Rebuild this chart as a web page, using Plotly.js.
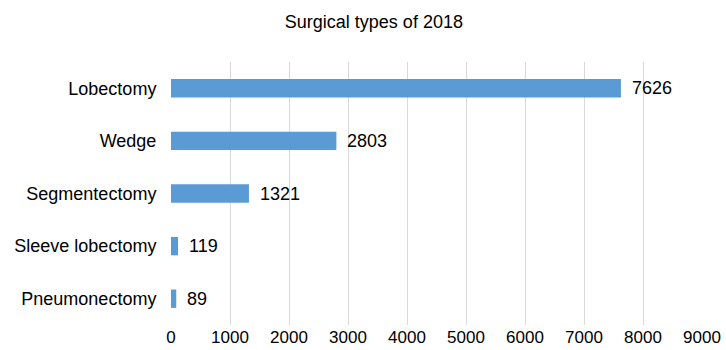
<!DOCTYPE html>
<html>
<head>
<meta charset="utf-8">
<script src="https://cdn.plot.ly/plotly-3.0.1.min.js"></script>
<style>html,body{margin:0;padding:0;background:#fff;}#chart{width:726px;height:350px;}</style>
</head>
<body>
<div id="chart"></div>
<script>
// Surgical procedure counts for 2018
const categories = ["Lobectomy", "Wedge", "Segmentectomy", "Sleeve lobectomy", "Pneumonectomy"];
const counts = [7626, 2803, 1321, 119, 89];
const xTicks = [0, 1000, 2000, 3000, 4000, 5000, 6000, 7000, 8000, 9000];

const font = "Liberation Sans, Arial, Helvetica, sans-serif";

const trace = {
  type: "bar",
  orientation: "h",
  y: categories,
  x: counts,
  marker: {color: "#5b9bd5"},
  hoverinfo: "x+y"
};

// value labels placed just past the end of each bar
const labels = categories.map((c, i) => ({
  x: counts[i], y: c, xref: "x", yref: "y",
  text: String(counts[i]), showarrow: false,
  xanchor: "left", xshift: 9,
  font: {family: font, size: 18, color: "#000"}
}));

const layout = {
  width: 726, height: 350,
  margin: {l: 171, r: 24, t: 62, b: 25},
  paper_bgcolor: "#fff", plot_bgcolor: "#fff",
  title: {text: "Surgical types of 2018", x: 0.515, xanchor: "center", y: 0.938, yanchor: "middle",
          font: {family: font, size: 18, color: "#000"}},
  bargap: 0.65,
  showlegend: false,
  xaxis: {
    range: [0, 9000], tickvals: xTicks, ticktext: xTicks.map(String),
    showgrid: true, gridcolor: "#d9d9d9", gridwidth: 1,
    zeroline: false, showline: false,
    ticks: "",
    tickfont: {family: font, size: 17, color: "#000"},
    fixedrange: true
  },
  yaxis: {
    type: "category", autorange: "reversed",
    showgrid: false, zeroline: false, showline: false,
    ticks: "outside", ticklen: 10, tickcolor: "rgba(0,0,0,0)",
    tickfont: {family: font, size: 18, color: "#000"},
    fixedrange: true
  },
  annotations: labels
};

Plotly.newPlot("chart", [trace], layout, {displayModeBar: false, staticPlot: true});
</script>
</body>
</html>
